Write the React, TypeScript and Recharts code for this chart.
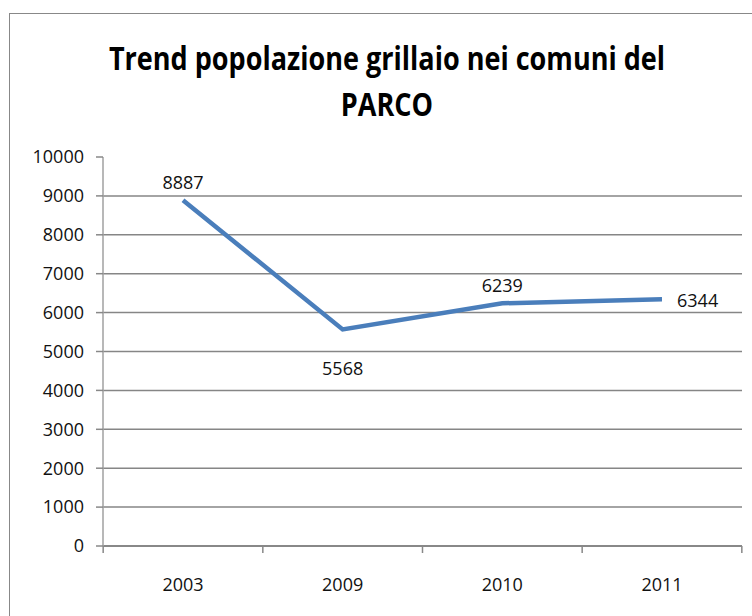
import React from 'react';
import { LineChart, Line, XAxis, YAxis, CartesianGrid, LabelList } from 'recharts';

const years = ['2003', '2009', '2010', '2011'];
const population = [8887, 5568, 6239, 6344];
const yTicks = [0, 1000, 2000, 3000, 4000, 5000, 6000, 7000, 8000, 9000, 10000];
const gridValues = [1000, 2000, 3000, 4000, 5000, 6000, 7000, 8000, 9000];
const boundaryTicks = [-0.5, 0.5, 1.5, 2.5, 3.5];
const titleLines = ['Trend popolazione grillaio nei comuni del', 'PARCO'];

const data = years.map((year, i) => ({ year, value: population[i] }));

const FONT = '"Open Sans", "Noto Sans", sans-serif';
const TITLE_FONT = '"Open Sans", "Noto Sans", sans-serif';

const renderLabel = (props: any) => {
  const { x, y, value, index } = props;
  const common = { fontFamily: FONT, fontSize: 18, fill: '#111' };
  if (index === 1) {
    return (
      <text x={x} y={y + 46} textAnchor="middle" {...common}>
        {value}
      </text>
    );
  }
  if (index === 3) {
    return (
      <text x={x + 15} y={y + 8} textAnchor="start" {...common}>
        {value}
      </text>
    );
  }
  return (
    <text x={x} y={y - 11} textAnchor="middle" {...common}>
      {value}
    </text>
  );
};

const emptyTick = () => <g />;

export default function App() {
  return (
    <div style={{ position: 'absolute', left: 0, top: 0, width: 752, height: 616, overflow: 'hidden', background: '#fff' }}>
      <div
        style={{
          position: 'absolute',
          left: 9,
          top: 13,
          width: 800,
          height: 700,
          border: '1.5px solid #888',
          boxSizing: 'border-box',
        }}
      />
      <svg width={752} height={130} style={{ position: 'absolute', left: 0, top: 0 }}>
        <text
          transform="translate(387,70) scale(0.82,1)"
          x={0}
          y={0}
          textAnchor="middle"
          fontFamily={TITLE_FONT}
          fontWeight="bold"
          fontSize={33}
          fill="#000"
        >
          {titleLines[0]}
        </text>
        <text
          transform="translate(387,116) scale(0.82,1)"
          x={0}
          y={0}
          textAnchor="middle"
          fontFamily={TITLE_FONT}
          fontWeight="bold"
          fontSize={33}
          fill="#000"
        >
          {titleLines[1]}
        </text>
      </svg>
      <div style={{ position: 'absolute', left: 0, top: 0 }}>
        <LineChart width={752} height={616} data={data} margin={{ top: 157, right: 10, left: 0, bottom: 22 }}>
          <CartesianGrid
            xAxisId="cat"
            vertical={false}
            horizontalValues={gridValues}
            stroke="#868686"
            strokeWidth={1.5}
          />
          <XAxis
            xAxisId="bound"
            type="number"
            padding={{ left: 80, right: 80 }}
            allowDataOverflow
            ticks={boundaryTicks}
            interval={0}
            tick={emptyTick}
            tickSize={7}
            tickLine={{ stroke: '#888', strokeWidth: 1.5 }}
            axisLine={{ stroke: '#888', strokeWidth: 2 }}
            height={8}
          />
          <XAxis
            xAxisId="cat"
            dataKey="year"
            type="category"
            padding={{ left: 80, right: 80 }}
            axisLine={false}
            tickLine={false}
            tickSize={0}
            tickMargin={24}
            height={40}
            tick={{ fontFamily: FONT, fontSize: 18, fill: '#111' }}
          />
          <YAxis
            width={103}
            domain={[0, 10000]}
            ticks={yTicks}
            interval={0}
            tickSize={7}
            tickMargin={12}
            tickLine={{ stroke: '#888', strokeWidth: 1.5 }}
            axisLine={{ stroke: '#a0a0a0', strokeWidth: 1.5 }}
            tick={{ fontFamily: FONT, fontSize: 18, fill: '#111' }}
          />
          <Line
            xAxisId="cat"
            type="linear"
            dataKey="value"
            stroke="#4a7ebb"
            strokeWidth={4.5}
            dot={false}
            isAnimationActive={false}
          >
            <LabelList dataKey="value" content={renderLabel} />
          </Line>
        </LineChart>
      </div>
    </div>
  );
}
